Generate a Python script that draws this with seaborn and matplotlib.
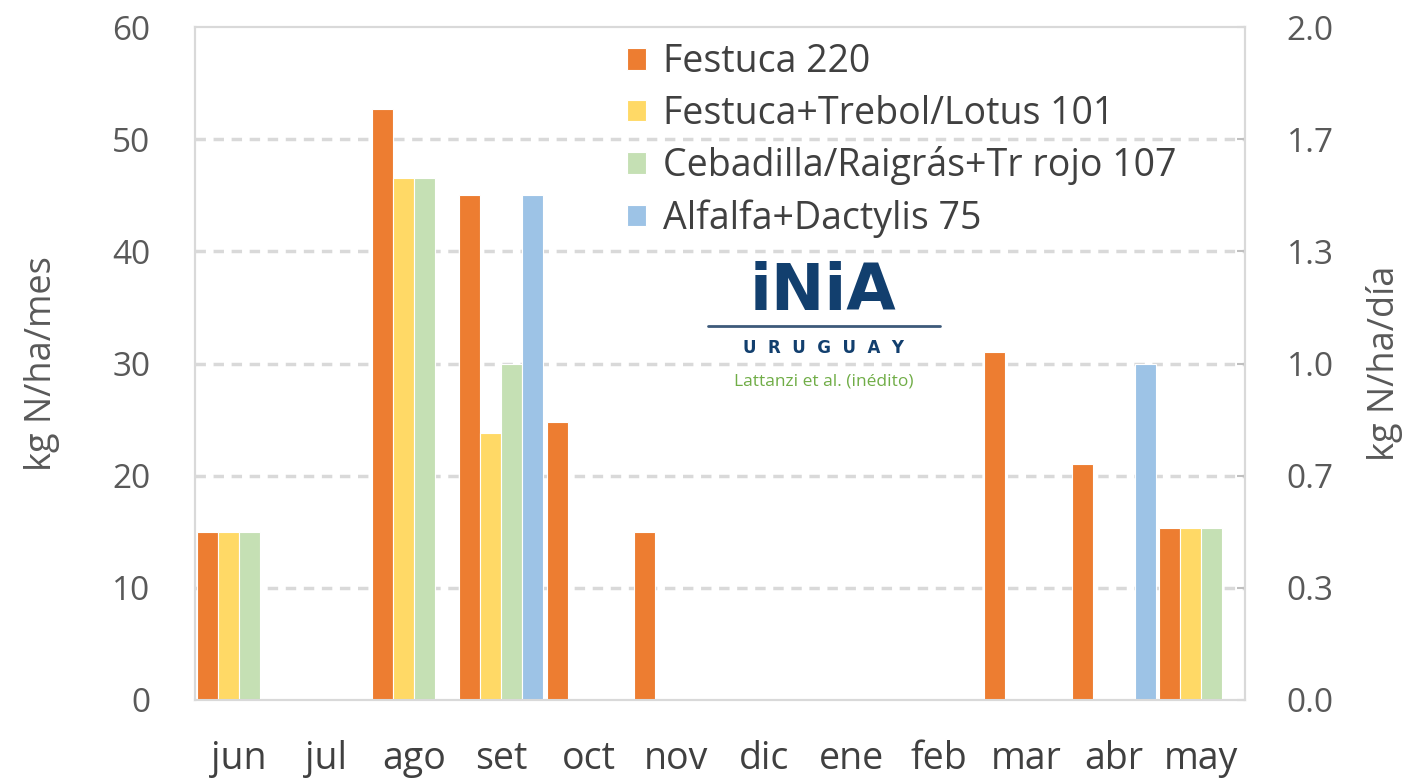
import numpy as np
import pandas as pd
import matplotlib
matplotlib.use("Agg")
import matplotlib.pyplot as plt
import seaborn as sns
from matplotlib.ticker import FormatStrFormatter

months = ["jun", "jul", "ago", "set", "oct", "nov", "dic", "ene", "feb", "mar", "abr", "may"]
series = ["Festuca 220", "Festuca+Trebol/Lotus 101",
          "Cebadilla/Raigrás+Tr rojo 107", "Alfalfa+Dactylis 75"]
festuca = [15, 0, 52.7, 45, 24.8, 15, 0, 0, 0, 31, 21, 15.3]
festuca_trebol = [15, 0, 46.5, 23.8, 0, 0, 0, 0, 0, 0, 0, 15.3]
cebadilla = [15, 0, 46.5, 30, 0, 0, 0, 0, 0, 0, 0, 15.3]
alfalfa = [0, 0, 0, 45, 0, 0, 0, 0, 0, 0, 30, 0]
colors = ["#ED7D31", "#FFD966", "#C5E0B4", "#9DC3E6"]
left_ticks = [0, 10, 20, 30, 40, 50, 60]
right_ticks = [0, 1/3, 2/3, 1, 4/3, 5/3, 2]

sns.set_theme(style="white")
plt.rcParams["font.family"] = ["Open Sans", "DejaVu Sans"]

rows = []
for s, vals in zip(series, [festuca, festuca_trebol, cebadilla, alfalfa]):
    for m, v in zip(months, vals):
        if v > 0:
            rows.append({"mes": m, "serie": s, "valor": v})
df = pd.DataFrame(rows)

fig = plt.figure(figsize=(14.04, 7.84), dpi=100)
ax = fig.add_axes([195/1404, 84/784, 1050/1404, 673/784])

sns.barplot(data=df, x="mes", y="valor", hue="serie", order=months,
            hue_order=series, palette=colors, width=0.96, gap=0,
            edgecolor="white", linewidth=0.8, saturation=1, ax=ax, zorder=3)

ax.set_xlim(-0.5, 11.5)
ax.set_ylim(0, 60)
ax.set_yticks(left_ticks)
grid_col = "#D9D9D9"
for y in left_ticks[1:-1]:
    ax.axhline(y, color=grid_col, lw=2.5, ls=(0, (3, 2.2)), zorder=1)

for sp in ax.spines.values():
    sp.set_color(grid_col)
    sp.set_linewidth(1.5)

ax.tick_params(axis="y", length=0, pad=32, labelsize=24, labelcolor="#595959")
ax.tick_params(axis="x", length=0, pad=29, labelsize=27, labelcolor="#404040")
ax.set_xlabel("")
ax.set_ylabel("kg N/ha/mes", fontsize=26, color="#595959", labelpad=38)

ax2 = ax.twinx()
ax2.set_ylim(0, 2)
ax2.set_yticks(right_ticks)
ax2.yaxis.set_major_formatter(FormatStrFormatter("%.1f"))
ax2.tick_params(axis="y", direction="in", length=6, color="#BFBFBF", width=1.5,
                pad=30, labelsize=24, labelcolor="#595959")
ax2.set_ylabel("kg N/ha/día", fontsize=26, color="#595959", labelpad=23)
for sp in ax2.spines.values():
    sp.set_color(grid_col)
    sp.set_linewidth(1.5)

leg = ax.legend(loc="upper left", bbox_to_anchor=(0.39, 1.009), frameon=False,
                fontsize=27, handlelength=0.5, handleheight=0.5,
                handletextpad=0.45, labelspacing=0.36, labelcolor="#404040",
                borderaxespad=0.2)

# INIA logo approximation
tr = fig.transFigure
fig.text(823/1404, 1 - 292/784, "iNiA", transform=tr, ha="center", va="center",
         fontsize=46, fontweight="bold", color="#123F6E", family="DejaVu Sans")
fig.add_artist(plt.Line2D([708/1404, 940/1404], [1 - 326/784, 1 - 326/784],
                          transform=tr, color="#3D5A7A", lw=2))
fig.text(824/1404, 1 - 348/784, "U  R  U  G  U  A  Y", transform=tr, ha="center",
         va="center", fontsize=12, fontweight="bold", color="#123F6E", family="DejaVu Sans")
fig.text(824/1404, 1 - 381/784, "Lattanzi et al. (inédito)", transform=tr,
         ha="center", va="center", fontsize=12.5, color="#70AD47")

fig.savefig("out.png", dpi=100)
